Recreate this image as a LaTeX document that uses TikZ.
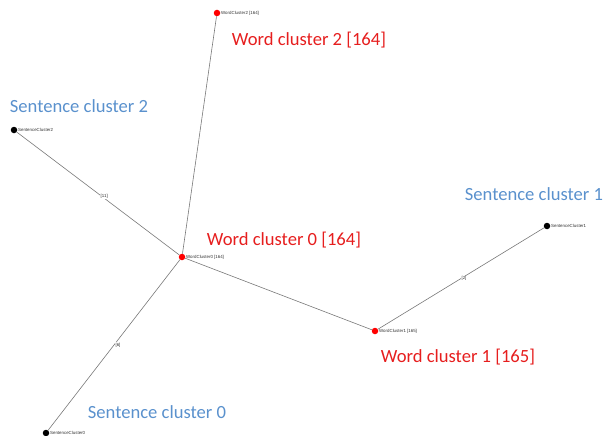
\documentclass[tikz,border=0pt]{standalone}
\usepackage{fontspec}
\setmainfont{Carlito}
\newfontfamily\smallfont{Liberation Sans}
\definecolor{wred}{RGB}{230,30,30}
\definecolor{sblue}{RGB}{90,145,205}
\definecolor{edgegray}{RGB}{120,120,120}
\begin{document}
\begin{tikzpicture}[x=1pt,y=-1pt,
  wdot/.style={circle,fill=red,inner sep=0pt,minimum size=6.5pt},
  sdot/.style={circle,fill=black,inner sep=0pt,minimum size=6.5pt},
  tiny/.style={font=\smallfont\fontsize{4.4}{5}\selectfont,inner sep=0.5pt,text=black!80},
  elab/.style={font=\smallfont\fontsize{4.4}{5}\selectfont,inner sep=0.5pt,text=black!80,fill=white},
  big/.style={font=\fontsize{18.6}{21}\selectfont,inner sep=0pt},
  link/.style={draw=edgegray,line width=0.6pt}]
\useasboundingbox (0,0) rectangle (603,436);
\node[wdot] (wc2) at (217,13) {};
\node[sdot] (sc2) at (14,130) {};
\node[wdot] (wc0) at (182,257) {};
\node[wdot] (wc1) at (375,331) {};
\node[sdot] (sc1) at (547,226) {};
\node[sdot] (sc0) at (46,433) {};
\draw[link] (wc0) -- node[elab,pos=0.48,xshift=3pt] (e11) {[11]} (sc2);
\draw[link] (wc0) -- (wc2);
\draw[link] (wc0) -- node[elab,pos=0.5,xshift=4pt] (e6) {[6]} (sc0);
\draw[link] (wc0) -- (wc1);
\draw[link] (wc1) -- node[elab,pos=0.5,xshift=3pt] (e2) {[2]} (sc1);
\node[tiny,anchor=west] (t2) at (wc2.east) {WordCluster2 [164]};
\node[tiny,anchor=west] (t3) at (sc2.east) {SentenceCluster2};
\node[tiny,anchor=west] (t0) at (wc0.east) {WordCluster0 [164]};
\node[tiny,anchor=west] (t1) at (wc1.east) {WordCluster1 [165]};
\node[tiny,anchor=west] (t4) at (sc1.east) {SentenceCluster1};
\node[tiny,anchor=west] (t5) at (sc0.east) {SentenceCluster0};
\node[big,text=wred] (L2) at (309,40) {Word cluster 2 [164]};
\node[big,text=sblue] (S2) at (79,106) {Sentence cluster 2};
\node[big,text=wred] (L0) at (284,240) {Word cluster 0 [164]};
\node[big,text=sblue] (S1) at (534,194) {Sentence cluster 1};
\node[big,text=wred] (L1) at (458,357) {Word cluster 1 [165]};
\node[big,text=sblue] (S0) at (157,412) {Sentence cluster 0};
\end{tikzpicture}
\end{document}
